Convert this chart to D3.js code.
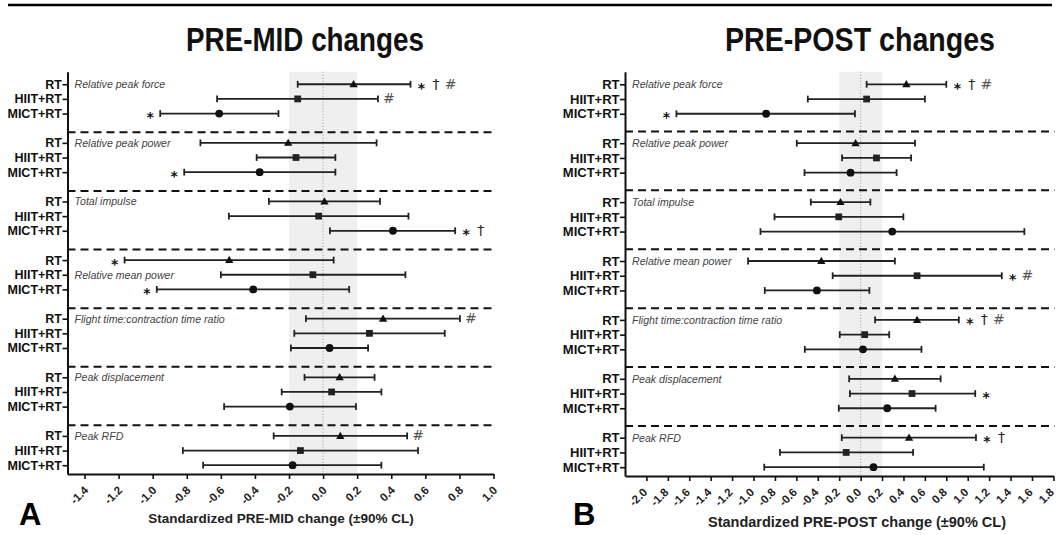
<!DOCTYPE html>
<html>
<head>
<meta charset="utf-8">
<script src="https://cdn.jsdelivr.net/npm/d3@7/dist/d3.min.js"></script>
<style>
body { margin: 0; background: #fff; }
svg { display: block; font-family: "Liberation Sans", Arial, sans-serif; }
</style>
</head>
<body>
<div id="chart"></div>
<script>
// outcome groups and arms, rows are ordered group by group, RT / HIIT+RT / MICT+RT
var groups = ['Relative peak force', 'Relative peak power', 'Total impulse', 'Relative mean power',
    'Flight time:contraction time ratio', 'Peak displacement', 'Peak RFD'];
var arms = ['RT', 'HIIT+RT', 'MICT+RT'];

// PRE-MID (panel A)
var midMean  = [0.179, -0.149, -0.610, -0.205, -0.159, -0.372, 0.008, -0.026, 0.410, -0.551, -0.060, -0.410,
    0.352, 0.272, 0.038, 0.097, 0.050, -0.195, 0.101, -0.133, -0.179];
var midLower = [-0.149, -0.622, -0.956, -0.720, -0.390, -0.815, -0.318, -0.553, 0.040, -1.165, -0.600, -0.976,
    -0.101, -0.169, -0.189, -0.109, -0.243, -0.581, -0.290, -0.823, -0.704];
var midUpper = [0.513, 0.322, -0.262, 0.314, 0.072, 0.072, 0.334, 0.501, 0.775, 0.062, 0.483, 0.153,
    0.803, 0.714, 0.264, 0.302, 0.342, 0.193, 0.493, 0.557, 0.342];
var midNotesRight = ['* † #', '#', '', '', '', '', '', '', '* †', '', '', '',
    '#', '', '', '', '', '', '#', '', ''];
var midNotesLeft = ['', '', '*', '', '', '*', '', '', '', '*', '', '*',
    '', '', '', '', '', '', '', '', ''];
var midLabelRow = [0, 0, 0, 1, 0, 0, 0];
var midTicks = [-1.4, -1.2, -1.0, -0.8, -0.6, -0.4, -0.2, 0.0, 0.2, 0.4, 0.6, 0.8, 1.0];

// PRE-POST (panel B)
var postMean  = [0.427, 0.056, -0.882, -0.047, 0.148, -0.094, -0.188, -0.204, 0.295, -0.367, 0.527, -0.408,
    0.527, 0.038, 0.022, 0.320, 0.480, 0.248, 0.452, -0.135, 0.120];
var postLower = [0.056, -0.493, -1.720, -0.596, -0.173, -0.524, -0.465, -0.804, -0.935, -1.051, -0.261, -0.895,
    0.135, -0.195, -0.521, -0.107, -0.100, -0.204, -0.176, -0.753, -0.900];
var postUpper = [0.800, 0.600, -0.053, 0.508, 0.471, 0.336, 0.091, 0.399, 1.529, 0.320, 1.318, 0.082,
    0.917, 0.267, 0.568, 0.747, 1.070, 0.700, 1.077, 0.490, 1.150];
var postNotesRight = ['* † #', '', '', '', '', '', '', '', '', '', '* #', '',
    '* † #', '', '', '', '*', '', '* †', '', ''];
var postNotesLeft = ['', '', '*', '', '', '', '', '', '', '', '', '',
    '', '', '', '', '', '', '', '', ''];
var postLabelRow = [0, 0, 0, 0, 0, 0, 0];
var postTicks = [-2.0, -1.8, -1.6, -1.4, -1.2, -1.0, -0.8, -0.6, -0.4, -0.2, 0.0, 0.2, 0.4, 0.6, 0.8, 1.0, 1.2, 1.4, 1.6, 1.8];

var width = 1057,
    height = 535;

var svg = d3.select('#chart').append('svg')
    .attr('width', width)
    .attr('height', height);

svg.append('line')
    .attr('x1', 8).attr('x2', 1052)
    .attr('y1', 5).attr('y2', 5)
    .attr('stroke', '#000').attr('stroke-width', 2.5);

var symbols = [d3.symbolTriangle, d3.symbolSquare, d3.symbolCircle];
var symbolSizes = [30, 46, 48];
var noteColor = { '*': '#111', '†': '#222', '#': '#555' };
var noteShift = { '*': 8.5, '†': 4.5, '#': 4.5 };
var noteSize = { '*': 14, '†': 14, '#': 14 };

function drawPanel(opt) {
    var x = d3.scaleLinear().domain(opt.domain).range(opt.xRange);
    var y = d3.scaleLinear().domain([-0.85, 26.6]).range(opt.yRange);

    var rows = [];
    groups.forEach(function (name, g) {
        arms.forEach(function (arm, a) {
            var k = g * 3 + a;
            rows.push({
                index: g * 4 + a, arm: a,
                mean: opt.mean[k], lo: opt.lower[k], hi: opt.upper[k],
                right: opt.notesRight[k], left: opt.notesLeft[k]
            });
        });
    });

    var top = opt.yRange[0], bottom = opt.yRange[1];
    var panel = svg.append('g');

    // +-0.2 band of trivial change and the zero line
    panel.append('rect')
        .attr('x', x(-0.2)).attr('width', x(0.2) - x(-0.2))
        .attr('y', top).attr('height', bottom - top)
        .attr('fill', '#efefef');
    panel.append('line')
        .attr('x1', x(0)).attr('x2', x(0))
        .attr('y1', top).attr('y2', bottom)
        .attr('stroke', '#888').attr('stroke-width', 0.8)
        .attr('stroke-dasharray', '1,2');

    // dashed lines between outcomes
    panel.selectAll('.sep').data(d3.range(groups.length - 1)).enter().append('line')
        .attr('class', 'sep')
        .attr('x1', opt.xRange[0]).attr('x2', opt.xRange[1] + 1)
        .attr('y1', function (g) { return y(g * 4 + opt.sepOffset); })
        .attr('y2', function (g) { return y(g * 4 + opt.sepOffset); })
        .attr('stroke', '#111').attr('stroke-width', 2)
        .attr('stroke-dasharray', '8,5');

    // outcome names
    panel.selectAll('.gname').data(groups).enter().append('text')
        .attr('class', 'gname')
        .attr('x', opt.xRange[0] + 7)
        .attr('y', function (d, g) { return y(g * 4 + opt.labelRow[g]); })
        .attr('dy', '0.36em')
        .attr('font-size', 10.6).attr('font-style', 'italic').attr('fill', '#444')
        .text(function (d) { return d; });

    // x axis
    var xAxis = d3.axisBottom(x)
        .tickValues(opt.ticks)
        .tickSize(5)
        .tickSizeOuter(0)
        .tickFormat(function (d) { return d.toFixed(1); });
    var gx = panel.append('g')
        .attr('transform', 'translate(0,' + bottom + ')')
        .call(xAxis);
    gx.select('.domain').attr('stroke-width', 2).attr('stroke', '#111');
    gx.selectAll('.tick line').attr('stroke-width', 1.6).attr('stroke', '#111');
    gx.selectAll('.tick text')
        .attr('x', 0).attr('y', 0).attr('dy', 0)
        .attr('text-anchor', 'end')
        .attr('transform', 'translate(' + opt.tickShift + ',17) rotate(-45)')
        .attr('font-size', 11.5).attr('font-weight', 'bold').attr('fill', '#222');

    // y axis with the arm names
    var yAxis = d3.axisLeft(y)
        .tickValues(rows.map(function (r) { return r.index; }))
        .tickSize(5)
        .tickSizeOuter(0)
        .tickFormat(function (i) { return arms[i % 4]; });
    var gy = panel.append('g')
        .attr('transform', 'translate(' + opt.xRange[0] + ',0)')
        .call(yAxis);
    gy.select('.domain').attr('stroke-width', 2).attr('stroke', '#111');
    gy.selectAll('.tick line').attr('stroke-width', 1.6).attr('stroke', '#111');
    gy.selectAll('.tick text')
        .attr('x', -5.5)
        .attr('font-size', opt.armSize).attr('font-weight', 'bold').attr('fill', '#111');

    // error bars
    var bar = panel.selectAll('.row').data(rows).enter().append('g')
        .attr('class', 'row')
        .attr('transform', function (r) { return 'translate(0,' + y(r.index) + ')'; });
    bar.append('line')
        .attr('x1', function (r) { return x(r.lo); })
        .attr('x2', function (r) { return x(r.hi); })
        .attr('stroke', '#222').attr('stroke-width', 1.8);
    bar.append('line')
        .attr('x1', function (r) { return x(r.lo); })
        .attr('x2', function (r) { return x(r.lo); })
        .attr('y1', -3.4).attr('y2', 3.4)
        .attr('stroke', '#222').attr('stroke-width', 1.8);
    bar.append('line')
        .attr('x1', function (r) { return x(r.hi); })
        .attr('x2', function (r) { return x(r.hi); })
        .attr('y1', -3.4).attr('y2', 3.4)
        .attr('stroke', '#222').attr('stroke-width', 1.8);
    bar.append('path')
        .attr('transform', function (r) { return 'translate(' + x(r.mean) + ',' + (r.arm === 0 ? 0.6 : 0) + ')'; })
        .attr('d', function (r) { return d3.symbol().type(symbols[r.arm]).size(symbolSizes[r.arm])(); })
        .attr('fill', function (r) { return r.arm === 1 ? '#222' : '#111'; });

    // significance marks
    bar.each(function (r) {
        var row = d3.select(this);
        function mark(s, xPos) {
            row.append('text')
                .attr('x', xPos)
                .attr('y', noteShift[s])
                .attr('text-anchor', 'middle')
                .attr('font-family', '"DejaVu Sans", sans-serif')
                .attr('font-size', noteSize[s])
                .attr('font-weight', s === '*' ? 'bold' : 'normal')
                .attr('fill', noteColor[s])
                .text(s);
        }
        r.right.split(' ').filter(Boolean).forEach(function (s, k) {
            mark(s, x(r.hi) + 11 + k * 14.5);
        });
        r.left.split(' ').filter(Boolean).forEach(function (s, k) {
            mark(s, x(r.lo) - 10 - k * 14.5);
        });
    });

    // titles
    svg.append('text')
        .attr('x', opt.titleX).attr('y', 51)
        .attr('text-anchor', 'middle')
        .attr('font-size', 33).attr('font-weight', 'bold').attr('fill', '#111')
        .attr('textLength', opt.titleWidth).attr('lengthAdjust', 'spacingAndGlyphs')
        .text(opt.title);
    svg.append('text')
        .attr('x', opt.labelX).attr('y', opt.labelY)
        .attr('text-anchor', 'middle')
        .attr('font-size', opt.labelSize).attr('font-weight', 'bold').attr('fill', '#222')
        .text(opt.xLabel);
    svg.append('text')
        .attr('x', opt.letterX).attr('y', 525)
        .attr('font-size', 31).attr('font-weight', 'bold').attr('fill', '#000')
        .text(opt.letter);
}

drawPanel({
    domain: [-1.5, 1.0], xRange: [67.5, 493.5], yRange: [71.8, 474],
    mean: midMean, lower: midLower, upper: midUpper,
    notesRight: midNotesRight, notesLeft: midNotesLeft,
    labelRow: midLabelRow, ticks: midTicks, sepOffset: 3.28, armSize: 12.5, tickShift: 4,
    title: 'PRE-MID changes', titleX: 305, titleWidth: 238,
    xLabel: 'Standardized PRE-MID change (±90% CL)', labelX: 281, labelY: 523, labelSize: 13.5,
    letter: 'A', letterX: 19
});

drawPanel({
    domain: [-2.2, 1.8], xRange: [625, 1053.4], yRange: [71.8, 476],
    mean: postMean, lower: postLower, upper: postUpper,
    notesRight: postNotesRight, notesLeft: postNotesLeft,
    labelRow: postLabelRow, ticks: postTicks, sepOffset: 3.2, armSize: 13, tickShift: 1,
    title: 'PRE-POST changes', titleX: 860, titleWidth: 270,
    xLabel: 'Standardized PRE-POST change (±90% CL)', labelX: 857, labelY: 527, labelSize: 14.5,
    letter: 'B', letterX: 573
});
</script>
</body>
</html>
